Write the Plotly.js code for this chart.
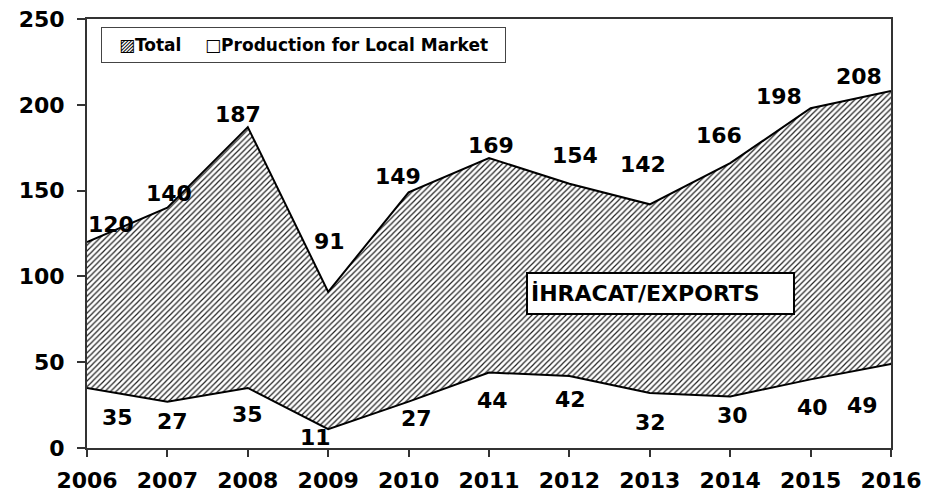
<!DOCTYPE html>
<html>
<head>
<meta charset="utf-8">
<script src="https://cdn.plot.ly/plotly-3.0.1.min.js"></script>
<style>
html,body{margin:0;padding:0;background:#fff;}
#chart{width:944px;height:493px;}
</style>
</head>
<body>
<div id="chart"></div>
<script>
const years = [2006, 2007, 2008, 2009, 2010, 2011, 2012, 2013, 2014, 2015, 2016];
const totalValues = [120, 140, 187, 91, 149, 169, 154, 142, 166, 198, 208];
const localValues = [35, 27, 35, 11, 27, 44, 42, 32, 30, 40, 49];
const yTickVals = [0, 50, 100, 150, 200, 250];
const seriesNames = ['Total', 'Production for Local Market'];
const exportsLabel = 'İHRACAT/EXPORTS';

// label offsets in pixels (x right, y up)
const totalDx = [24, 2, -10, 1, -11, 2, 6, -7, -11, -32, -32];
const totalDy = [18, 14, 13, 50, 16, 13, 28, 40, 28, 12, 15];
const localDx = [30, 5, 0, -13, 8, 3, 1, 1, 2, 2, -29];
const localDy = [-30, -20, -27, -8, -17, -28, -24, -29, -19, -28, -42];

const FONT = 'DejaVu Sans, Verdana, sans-serif';
const AX = '#333333';

const traces = [
  {
    x: years, y: totalValues, name: seriesNames[0], type: 'scatter', mode: 'lines',
    fill: 'tozeroy', fillcolor: 'white',
    fillpattern: {shape: '/', fgcolor: '#222222', bgcolor: 'white', size: 4, solidity: 0.3},
    line: {color: 'black', width: 2}, hoverinfo: 'skip', showlegend: false
  },
  {
    x: years, y: localValues, name: seriesNames[1], type: 'scatter', mode: 'lines',
    fill: 'tozeroy', fillcolor: 'white',
    line: {color: 'black', width: 2}, hoverinfo: 'skip', showlegend: false
  }
];

const annotations = [];
years.forEach((yr, i) => {
  annotations.push({
    x: yr, y: totalValues[i], xref: 'x', yref: 'y', text: String(totalValues[i]),
    showarrow: false, xanchor: 'center', yanchor: 'middle',
    xshift: totalDx[i], yshift: totalDy[i],
    font: {family: FONT, size: 22, color: 'black', weight: 'bold'}
  });
  annotations.push({
    x: yr, y: localValues[i], xref: 'x', yref: 'y', text: String(localValues[i]),
    showarrow: false, xanchor: 'center', yanchor: 'middle',
    xshift: localDx[i], yshift: localDy[i],
    font: {family: FONT, size: 22, color: 'black', weight: 'bold'}
  });
});
// exports box
annotations.push({
  x: 2013.13, y: 90, xref: 'x', yref: 'y', text: exportsLabel,
  showarrow: false, xanchor: 'center', yanchor: 'middle',
  width: 259, height: 33, align: 'left', valign: 'middle',
  bgcolor: 'white', bordercolor: 'black', borderwidth: 2, borderpad: 3,
  font: {family: FONT, size: 22, color: 'black', weight: 'bold'}
});
// legend box (Excel style, small square keys)
annotations.push({
  x: 0.0174, y: 0.9814, xref: 'paper', yref: 'paper',
  text: '▨' + seriesNames[0] + '\u00a0\u00a0\u00a0\u00a0□' + seriesNames[1],
  showarrow: false, xanchor: 'left', yanchor: 'top',
  width: 401, height: 32, align: 'center', valign: 'middle',
  bgcolor: 'white', bordercolor: '#444', borderwidth: 1, borderpad: 1,
  font: {family: FONT, size: 17, color: 'black', weight: 'bold'}
});

const layout = {
  width: 944, height: 493,
  margin: {l: 87, r: 53, t: 19, b: 45, pad: 0},
  paper_bgcolor: 'white', plot_bgcolor: 'white',
  showlegend: false,
  xaxis: {
    range: [2006, 2016], tickvals: years, ticktext: years.map(String),
    showgrid: false, zeroline: false, showline: true, linecolor: AX, linewidth: 2,
    mirror: true, ticks: 'outside', ticklen: 7, tickwidth: 2, tickcolor: AX,
    ticklabelstandoff: 5,
    tickfont: {family: FONT, size: 22, color: 'black', weight: 'bold'}
  },
  yaxis: {
    range: [0, 250], tickvals: yTickVals,
    showgrid: false, zeroline: false, showline: true, linecolor: AX, linewidth: 2,
    mirror: true, ticks: 'outside', ticklen: 8, tickwidth: 2, tickcolor: AX,
    ticklabelstandoff: 8,
    tickfont: {family: FONT, size: 22, color: 'black', weight: 'bold'}
  },
  annotations: annotations
};

Plotly.newPlot('chart', traces, layout, {displayModeBar: false, staticPlot: true});
</script>
</body>
</html>
